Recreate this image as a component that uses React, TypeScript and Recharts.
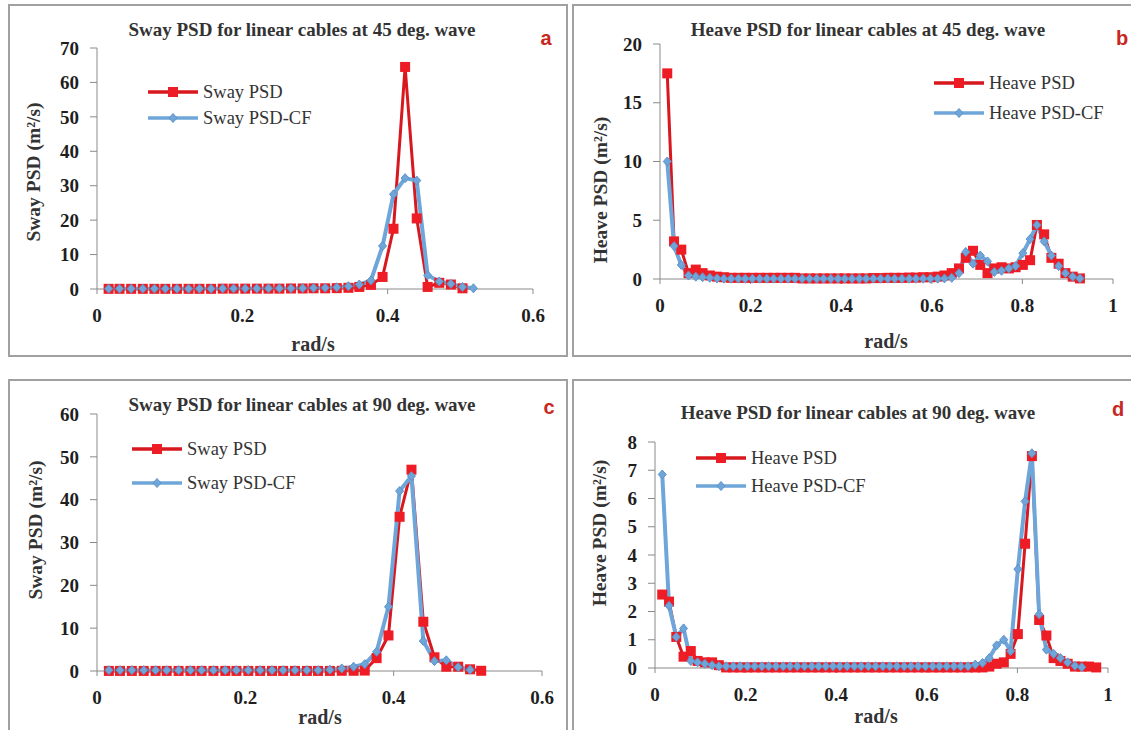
import React from "react";
import { LineChart, Line, XAxis, YAxis } from "recharts";

// frequency grid (rad/s)
const FREQ = [
  0.016, 0.031, 0.047, 0.063, 0.079, 0.094, 0.11, 0.126, 0.141, 0.157,
  0.173, 0.188, 0.204, 0.22, 0.236, 0.251, 0.267, 0.283, 0.298, 0.314,
  0.33, 0.346, 0.361, 0.377, 0.393, 0.408, 0.424, 0.44, 0.455, 0.471,
  0.487, 0.503, 0.518, 0.534, 0.55, 0.565, 0.581, 0.597, 0.613, 0.628,
  0.644, 0.66, 0.675, 0.691, 0.707, 0.723, 0.738, 0.754, 0.77, 0.785,
  0.801, 0.817, 0.832, 0.848, 0.864, 0.88, 0.895, 0.911, 0.927, 0.942,
  0.958, 0.974,
];

// a: sway, 45 deg
const SWAY45_PSD = [
  0.05, 0.05, 0.05, 0.05, 0.05, 0.05, 0.05, 0.05, 0.05, 0.05,
  0.1, 0.1, 0.1, 0.1, 0.1, 0.1, 0.15, 0.15, 0.2, 0.2,
  0.25, 0.35, 0.6, 1.2, 3.5, 17.5, 64.5, 20.5, 0.6, 1.8,
  1.3, 0.2,
];
const SWAY45_CF = [
  0.1, 0.1, 0.1, 0.1, 0.1, 0.1, 0.1, 0.1, 0.1, 0.1,
  0.15, 0.15, 0.15, 0.15, 0.2, 0.2, 0.2, 0.25, 0.3, 0.35,
  0.5, 0.8, 1.3, 2.5, 12.5, 27.5, 32.2, 31.5, 4, 2.2,
  1.5, 0.6, 0.2,
];

// b: heave, 45 deg
const HEAVE45_PSD = [
  17.5, 3.2, 2.5, 0.5, 0.8, 0.5, 0.3, 0.2, 0.15, 0.1,
  0.1, 0.1, 0.1, 0.1, 0.1, 0.1, 0.1, 0.1, 0.1, 0.05,
  0.05, 0.05, 0.05, 0.05, 0.05, 0.05, 0.05, 0.05, 0.05, 0.08,
  0.08, 0.1, 0.1, 0.1, 0.12, 0.12, 0.15, 0.15, 0.2, 0.3,
  0.5, 0.9, 1.8, 2.4, 1.2, 0.5, 0.9, 1.0, 0.9, 1.0,
  1.2, 1.6, 4.6, 3.8, 1.8, 1.3, 0.5, 0.2, 0.05,
];
const HEAVE45_CF = [
  10, 2.8, 1.2, 0.3, 0.2, 0.15, 0.1, 0.05, 0.03, 0.03,
  0.03, 0.03, 0.03, 0.03, 0.03, 0.03, 0.03, 0.03, 0.03, 0.03,
  0.03, 0.03, 0.03, 0.03, 0.03, 0.03, 0.03, 0.03, 0.03, 0.03,
  0.03, 0.03, 0.03, 0.03, 0.03, 0.03, 0.03, 0.03, 0.03, 0.05,
  0.1, 0.5, 2.3, 1.3, 2.0, 1.5, 0.6, 0.7, 0.9, 1.1,
  2.2, 3.4, 4.6, 3.2, 2.0, 1.1, 0.5, 0.2, 0.05,
];

// c: sway, 90 deg
const SWAY90_PSD = [
  0.02, 0.02, 0.02, 0.02, 0.02, 0.02, 0.02, 0.02, 0.02, 0.02,
  0.02, 0.02, 0.02, 0.02, 0.02, 0.02, 0.02, 0.02, 0.02, 0.02,
  0.05, 0.05, 0.1, 3, 8.3, 36, 47, 11.5, 3.2, 1.0,
  1.0, 0.4, 0.05,
];
const SWAY90_CF = [
  0.2, 0.2, 0.2, 0.2, 0.2, 0.2, 0.2, 0.2, 0.2, 0.2,
  0.2, 0.2, 0.2, 0.2, 0.2, 0.2, 0.2, 0.2, 0.2, 0.3,
  0.6, 1.0, 1.6, 4.5, 15, 42, 45.5, 7, 2.3, 2.5,
  0.9, 0.3,
];

// d: heave, 90 deg
const HEAVE90_PSD = [
  2.6, 2.35, 1.1, 0.4, 0.6, 0.25, 0.2, 0.2, 0.1, 0.02,
  0.02, 0.02, 0.02, 0.02, 0.02, 0.02, 0.02, 0.02, 0.02, 0.02,
  0.02, 0.02, 0.02, 0.02, 0.02, 0.02, 0.02, 0.02, 0.02, 0.02,
  0.02, 0.02, 0.02, 0.02, 0.02, 0.02, 0.02, 0.02, 0.02, 0.02,
  0.02, 0.02, 0.02, 0.02, 0.02, 0.02, 0.05, 0.15, 0.2, 0.5,
  1.2, 4.4, 7.5, 1.7, 1.15, 0.35, 0.25, 0.15, 0.05, 0.05,
  0.05, 0.02,
];
const HEAVE90_CF = [
  6.85, 2.2, 1.1, 1.4, 0.25, 0.2, 0.15, 0.1, 0.06, 0.06,
  0.06, 0.06, 0.06, 0.06, 0.06, 0.06, 0.06, 0.06, 0.06, 0.06,
  0.06, 0.06, 0.06, 0.06, 0.06, 0.06, 0.06, 0.06, 0.06, 0.06,
  0.06, 0.06, 0.06, 0.06, 0.06, 0.06, 0.06, 0.06, 0.06, 0.06,
  0.06, 0.06, 0.06, 0.06, 0.12, 0.18, 0.35, 0.8, 1.0, 0.6,
  3.5, 5.9, 7.6, 1.9, 0.65, 0.5, 0.35, 0.2, 0.08, 0.03,
];

const X_TICKS_SWAY = [0, 0.2, 0.4, 0.6];
const X_TICKS_HEAVE = [0, 0.2, 0.4, 0.6, 0.8, 1];
const Y_TICKS_A = [0, 10, 20, 30, 40, 50, 60, 70];
const Y_TICKS_B = [0, 5, 10, 15, 20];
const Y_TICKS_C = [0, 10, 20, 30, 40, 50, 60];
const Y_TICKS_D = [0, 1, 2, 3, 4, 5, 6, 7, 8];

const RED = "#ee1c24";
const RED_LINE = "#d7191f";
const BLUE = "#6fa6da";
const BLUE_EDGE = "#5d93c9";
const AXIS = "#8a8a8a";
const SERIF = "'Liberation Serif', 'Times New Roman', serif";

const YW = 70;
const XH = 46;
const MT = 14;
const MR = 14;

const SquareDot = (props: any) => {
  const { cx, cy, index } = props;
  if (cx == null || cy == null) return <g key={`s${index}`} />;
  return <rect key={`s${index}`} x={cx - 5} y={cy - 5} width={10} height={10} fill={RED} />;
};

const DiamondDot = (props: any) => {
  const { cx, cy, index } = props;
  if (cx == null || cy == null) return <g key={`d${index}`} />;
  return (
    <polygon
      key={`d${index}`}
      points={`${cx},${cy - 4.5} ${cx + 4},${cy} ${cx},${cy + 4.5} ${cx - 4},${cy}`}
      fill={BLUE}
      stroke={BLUE_EDGE}
      strokeWidth={1}
    />
  );
};

const PANELS = [
  {
    letter: "a",
    title: "Sway PSD for linear cables at 45 deg. wave",
    yLabel: "Sway PSD (m²/s)",
    psdName: "Sway PSD",
    cfName: "Sway PSD-CF",
    psd: SWAY45_PSD,
    cf: SWAY45_CF,
    xMax: 0.6,
    xTicks: X_TICKS_SWAY,
    yMax: 70,
    yTicks: Y_TICKS_A,
    box: { left: 8, top: 4, width: 560, height: 353 },
    plot: { left: 97, top: 48, right: 533, bottom: 289 },
    titleAt: [302, 30],
    letterAt: [546, 38],
    xLabelAt: [313, 344],
    yLabelAt: [34, 172],
    legendAt: [147, 92],
    legendGap: 26,
  },
  {
    letter: "b",
    title: "Heave PSD for linear cables at 45 deg. wave",
    yLabel: "Heave PSD (m²/s)",
    psdName: "Heave PSD",
    cfName: "Heave PSD-CF",
    psd: HEAVE45_PSD,
    cf: HEAVE45_CF,
    xMax: 1,
    xTicks: X_TICKS_HEAVE,
    yMax: 20,
    yTicks: Y_TICKS_B,
    box: { left: 572, top: 4, width: 570, height: 353 },
    plot: { left: 660, top: 44, right: 1113, bottom: 279 },
    titleAt: [868, 30],
    letterAt: [1122, 38],
    xLabelAt: [886, 341],
    yLabelAt: [601, 190],
    legendAt: [933, 83],
    legendGap: 30,
  },
  {
    letter: "c",
    title: "Sway PSD for linear cables at 90 deg. wave",
    yLabel: "Sway PSD (m²/s)",
    psdName: "Sway PSD",
    cfName: "Sway PSD-CF",
    psd: SWAY90_PSD,
    cf: SWAY90_CF,
    xMax: 0.6,
    xTicks: X_TICKS_SWAY,
    yMax: 60,
    yTicks: Y_TICKS_C,
    box: { left: 8, top: 379, width: 560, height: 360 },
    plot: { left: 97, top: 414, right: 542, bottom: 671 },
    titleAt: [302, 405],
    letterAt: [549, 407],
    xLabelAt: [320, 717],
    yLabelAt: [36, 530],
    legendAt: [131, 449],
    legendGap: 34,
  },
  {
    letter: "d",
    title: "Heave PSD for linear cables at 90 deg. wave",
    yLabel: "Heave PSD (m²/s)",
    psdName: "Heave PSD",
    cfName: "Heave PSD-CF",
    psd: HEAVE90_PSD,
    cf: HEAVE90_CF,
    xMax: 1,
    xTicks: X_TICKS_HEAVE,
    yMax: 8,
    yTicks: Y_TICKS_D,
    box: { left: 572, top: 379, width: 570, height: 360 },
    plot: { left: 655, top: 442, right: 1108, bottom: 668 },
    titleAt: [858, 413],
    letterAt: [1118, 409],
    xLabelAt: [876, 716],
    yLabelAt: [600, 533],
    legendAt: [695, 458],
    legendGap: 28,
  },
];

const tickStyle = { fontFamily: SERIF, fontWeight: 700, fontSize: 19, fill: "#1e1e1e" };

const centered = (x: number, y: number): React.CSSProperties => ({
  position: "absolute",
  left: x,
  top: y,
  transform: "translate(-50%, -50%)",
  whiteSpace: "nowrap",
});

const LegendRow = ({ kind, label }: { kind: "psd" | "cf"; label: string }) => (
  <div style={{ display: "flex", alignItems: "center", height: 22 }}>
    <svg width={52} height={14} style={{ marginRight: 4 }}>
      {kind === "psd" ? (
        <>
          <line x1={1} y1={7} x2={51} y2={7} stroke={RED_LINE} strokeWidth={3.5} />
          <rect x={21} y={2} width={10} height={10} fill={RED} />
        </>
      ) : (
        <>
          <line x1={1} y1={7} x2={51} y2={7} stroke={BLUE} strokeWidth={3.5} />
          <polygon points="26,2.5 30,7 26,11.5 22,7" fill={BLUE} stroke={BLUE_EDGE} />
        </>
      )}
    </svg>
    <span style={{ fontFamily: SERIF, fontSize: 18.5, color: "#333" }}>{label}</span>
  </div>
);

const Panel = ({ p }: { p: (typeof PANELS)[number] }) => {
  const n = Math.max(p.psd.length, p.cf.length);
  const rows = FREQ.slice(0, n).map((w, i) => ({ w, psd: p.psd[i], cf: p.cf[i] }));
  const { plot } = p;
  return (
    <>
      <div
        style={{
          position: "absolute",
          left: p.box.left,
          top: p.box.top,
          width: p.box.width,
          height: p.box.height,
          border: "2px solid #a0a0a0",
          boxSizing: "border-box",
        }}
      />
      <div style={{ position: "absolute", left: plot.left - YW, top: plot.top - MT }}>
        <LineChart
          width={plot.right - plot.left + YW + MR}
          height={plot.bottom - plot.top + MT + XH}
          data={rows}
          margin={{ top: MT, right: MR, left: 0, bottom: 0 }}
        >
          <XAxis
            dataKey="w"
            type="number"
            domain={[0, p.xMax]}
            ticks={p.xTicks}
            height={XH}
            stroke={AXIS}
            tickSize={5}
            tickMargin={15}
            tick={tickStyle}
            tickFormatter={(v: number) => String(v)}
          />
          <YAxis
            type="number"
            domain={[0, p.yMax]}
            ticks={p.yTicks}
            width={YW}
            stroke={AXIS}
            tickSize={7}
            tickMargin={11}
            tick={tickStyle}
          />
          <Line
            dataKey="psd"
            stroke={RED_LINE}
            strokeWidth={3}
            dot={SquareDot}
            activeDot={false}
            isAnimationActive={false}
          />
          <Line
            dataKey="cf"
            stroke={BLUE}
            strokeWidth={4}
            dot={DiamondDot}
            activeDot={false}
            isAnimationActive={false}
          />
        </LineChart>
      </div>
      <div style={{ ...centered(p.titleAt[0], p.titleAt[1]), fontFamily: SERIF, fontWeight: 700, fontSize: 19, color: "#333" }}>
        {p.title}
      </div>
      <div
        style={{
          ...centered(p.letterAt[0], p.letterAt[1]),
          fontFamily: "'Liberation Sans', Arial, sans-serif",
          fontWeight: 700,
          fontSize: 20,
          color: "#c8281f",
        }}
      >
        {p.letter}
      </div>
      <div style={{ ...centered(p.xLabelAt[0], p.xLabelAt[1]), fontFamily: SERIF, fontWeight: 700, fontSize: 20, color: "#333" }}>
        rad/s
      </div>
      <div
        style={{
          ...centered(p.yLabelAt[0], p.yLabelAt[1]),
          transform: "translate(-50%, -50%) rotate(-90deg)",
          fontFamily: SERIF,
          fontWeight: 700,
          fontSize: 19.5,
          color: "#333",
        }}
      >
        {p.yLabel}
      </div>
      <div style={{ position: "absolute", left: p.legendAt[0], top: p.legendAt[1] - 11 }}>
        <LegendRow kind="psd" label={p.psdName} />
        <div style={{ height: p.legendGap - 22 }} />
        <LegendRow kind="cf" label={p.cfName} />
      </div>
    </>
  );
};

export default function App() {
  return (
    <div
      style={{
        position: "absolute",
        left: 0,
        top: 0,
        width: 1131,
        height: 730,
        overflow: "hidden",
        background: "#fff",
      }}
    >
      {PANELS.map((p) => (
        <Panel key={p.letter} p={p} />
      ))}
    </div>
  );
}
